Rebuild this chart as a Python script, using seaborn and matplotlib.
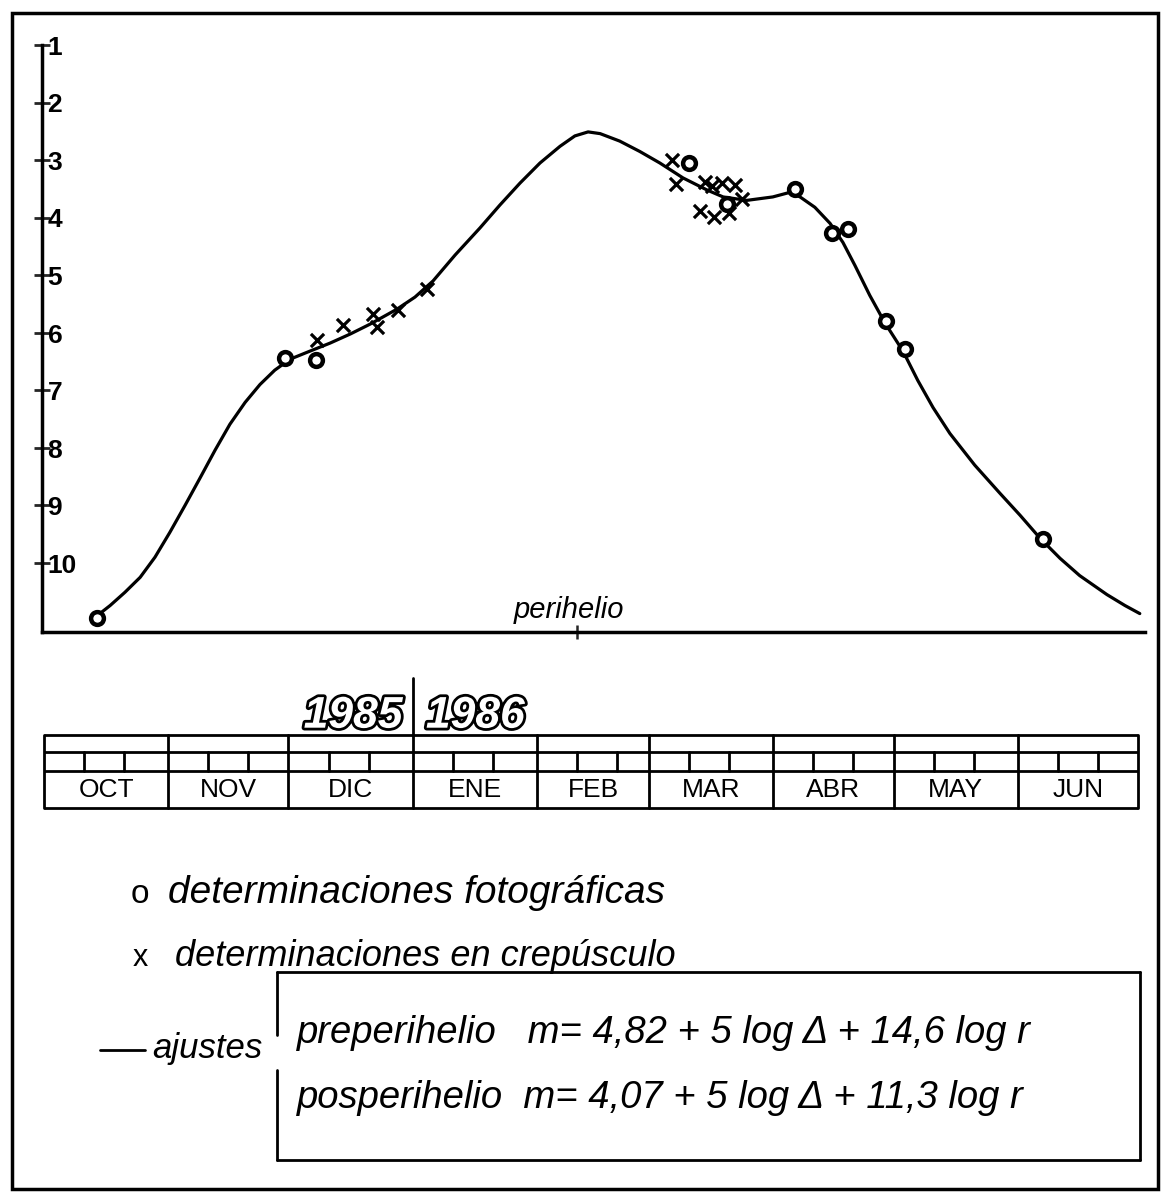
import numpy as np
import pandas as pd
import seaborn as sns
import matplotlib.pyplot as plt
from matplotlib import patheffects
from matplotlib.lines import Line2D
from matplotlib.transforms import offset_copy

# Days counted from 1985 October 1, magnitudes
month_names = ["OCT", "NOV", "DIC", "ENE", "FEB", "MAR", "ABR", "MAY", "JUN"]
month_days = [31, 30, 31, 31, 28, 31, 30, 31, 30]
mag_ticks = [1, 2, 3, 4, 5, 6, 7, 8, 9, 10]
perihelion_day = 133

# photographic determinations (circles)
foto_day = [13.2, 60.1, 67.9, 161.0, 170.5, 187.4, 196.7, 200.6, 210.1, 214.9, 249.3]
foto_mag = [10.95, 6.44, 6.48, 3.05, 3.77, 3.50, 4.27, 4.20, 5.80, 6.29, 9.59]

# twilight determinations (crosses)
crep_day = [68.1, 74.6, 82.1, 83.1, 88.3, 95.6,
            156.7, 157.7, 165.0, 166.7, 169.2, 172.5, 174.2, 163.7, 167.2, 171.0]
crep_mag = [6.13, 5.87, 5.68, 5.90, 5.61, 5.24,
            3.00, 3.42, 3.38, 3.45, 3.40, 3.43, 3.68, 3.89, 3.99, 3.92]

# fitted light curve (pre and post perihelion)
fit_day = [13.2, 16.5, 20.2, 24.0, 27.7, 31.4, 35.2, 38.9, 42.7, 46.4, 50.2,
           53.9, 57.6, 61.4, 66.0, 71.4, 76.5, 81.4, 88.1, 92.6, 97.1, 102.6,
           108.8, 113.8, 118.8, 123.8, 128.8, 132.5, 135.8, 138.8, 143.7, 148.7,
           153.7, 159.5, 165.5, 169.5, 175.4, 181.9, 186.2, 188.7, 192.4, 196.2,
           199.4, 202.4, 206.1, 209.9, 214.4, 218.1, 221.9, 226.1, 232.3, 238.6,
           243.6, 248.6, 253.6, 258.5, 265.3, 269.8, 273.5]
fit_mag = [10.92, 10.74, 10.51, 10.25, 9.90, 9.47, 9.00, 8.53, 8.04, 7.59, 7.21,
           6.90, 6.65, 6.46, 6.33, 6.18, 6.02, 5.85, 5.59, 5.38, 5.10, 4.65,
           4.18, 3.78, 3.40, 3.05, 2.76, 2.58, 2.51, 2.54, 2.67, 2.85,
           3.05, 3.31, 3.52, 3.64, 3.70, 3.64, 3.56, 3.64, 3.82, 4.10,
           4.43, 4.83, 5.35, 5.83, 6.32, 6.83, 7.30, 7.75, 8.30, 8.79,
           9.17, 9.57, 9.92, 10.22, 10.55, 10.74, 10.88]

sns.set_style("white")
plt.rcParams["font.family"] = ["Liberation Sans", "DejaVu Sans"]
plt.rcParams["text.color"] = "black"

W, H = 1163, 1194
fig = plt.figure(figsize=(W / 100, H / 100), dpi=100)


def fig_box(x0, y0, x1, y1):
    # pixel box (top-left origin) -> figure fraction rect
    return [x0 / W, 1 - y1 / H, (x1 - x0) / W, (y1 - y0) / H]


def fx(px):
    return px / W


def fy(py):
    return 1 - py / H


# ---- main light curve ----
ax = fig.add_axes(fig_box(42, 45, 1145, 632))

sns.lineplot(x=fit_day, y=fit_mag, sort=False, estimator=None,
             color="black", linewidth=2.3, ax=ax, zorder=2)
ax.lines[-1].set_solid_joinstyle("round")
sns.scatterplot(x=crep_day, y=crep_mag, marker="x", color="black",
                s=90, linewidth=2.3, ax=ax, zorder=3)
sns.scatterplot(x=foto_day, y=foto_mag, marker="o", facecolor="white",
                edgecolor="black", s=85, linewidth=3.2, ax=ax, zorder=4)

ax.set_xlim(-0.5, 274.8)
ax.set_ylim(11.2, 1.0)
ax.set_facecolor("white")
for side in ["top", "right"]:
    ax.spines[side].set_visible(False)
for side in ["left", "bottom"]:
    ax.spines[side].set_linewidth(2.5)
    ax.spines[side].set_color("black")

ax.set_yticks(mag_ticks)
ax.set_yticklabels([])
ax.tick_params(axis="y", direction="inout", length=11, width=2, left=True)
lab_tr = offset_copy(ax.get_yaxis_transform(), fig=fig, x=4, y=-2, units="points")
for v in mag_ticks:
    ax.text(0, v, str(v), transform=lab_tr, ha="left", va="center",
            fontsize=19, fontweight="bold")

ax.set_xticks([perihelion_day])
ax.set_xticklabels([])
ax.tick_params(axis="x", direction="inout", length=10, width=1.8, bottom=True)
ax.set_xlabel("")
ax.set_ylabel("")
per_tr = offset_copy(ax.transData, fig=fig, x=0, y=6, units="points")
ax.text(perihelion_day - 2, 11.2, "perihelio", transform=per_tr,
        ha="center", va="bottom", fontsize=21, fontstyle="italic")

# ---- calendar strip ----
tax = fig.add_axes(fig_box(44, 735, 1138, 808))
tax.set_xlim(0, sum(month_days))
tax.set_ylim(0, 1)
tax.axis("off")

starts = np.concatenate([[0], np.cumsum(month_days)])
lw_t = 2.0
for yv in [0, 0.507, 0.767, 1]:
    tax.plot([0, starts[-1]], [yv, yv], color="black", lw=lw_t,
             solid_capstyle="butt", clip_on=False)
for xv in starts:
    tax.plot([xv, xv], [0, 1], color="black", lw=lw_t, clip_on=False)
for s, n, name in zip(starts[:-1], month_days, month_names):
    for d in (10, 20):
        tax.plot([s + d, s + d], [0.507, 0.767], color="black", lw=lw_t)
    tax.text(s + n / 2, 0.25, name, ha="center", va="center", fontsize=19)

# year separator and year labels
tax.plot([starts[3], starts[3]], [1, 1.78], color="black", lw=lw_t, clip_on=False)
outline = [patheffects.withStroke(linewidth=4, foreground="black")]
tax.text(starts[3] - 2.5, 1.1, "1985", ha="right", va="baseline",
         fontsize=32, fontstyle="italic", fontweight="bold", color="white",
         path_effects=outline)
tax.text(starts[3] + 3.3, 1.1, "1986", ha="left", va="baseline",
         fontsize=32, fontstyle="italic", fontweight="bold", color="white",
         path_effects=outline)

# ---- legend ----
fig.text(fx(140), fy(903), "o", ha="center", va="baseline", fontsize=24)
fig.text(fx(168), fy(903), "determinaciones fotográficas", ha="left",
         va="baseline", fontsize=28, fontstyle="italic")
fig.text(fx(140), fy(966), "x", ha="center", va="baseline", fontsize=22)
fig.text(fx(175), fy(966), "determinaciones en crepúsculo", ha="left",
         va="baseline", fontsize=26, fontstyle="italic")

fig.add_artist(Line2D([fx(100), fx(145)], [fy(1050), fy(1050)],
                      transform=fig.transFigure, color="black", lw=2))
fig.text(fx(152), fy(1058), "ajustes", ha="left", va="baseline",
         fontsize=25, fontstyle="italic")

# formula box (left edge broken beside "ajustes")
box_lines = [
    ([277, 1140], [972, 972]),
    ([1140, 1140], [972, 1160]),
    ([277, 1140], [1160, 1160]),
    ([277, 277], [972, 1035]),
    ([277, 277], [1070, 1160]),
]
for xs, ys in box_lines:
    fig.add_artist(Line2D([fx(v) for v in xs], [fy(v) for v in ys],
                          transform=fig.transFigure, color="black", lw=2))

fig.text(fx(297), fy(1043), "preperihelio   m= 4,82 + 5 log Δ + 14,6 log r",
         ha="left", va="baseline", fontsize=27.5, fontstyle="italic")
fig.text(fx(297), fy(1108), "posperihelio  m= 4,07 + 5 log Δ + 11,3 log r",
         ha="left", va="baseline", fontsize=27.5, fontstyle="italic")

# outer frame
fig.add_artist(plt.Rectangle((fx(12), fy(1189)), fx(1158) - fx(12),
                             fy(13) - fy(1189), transform=fig.transFigure,
                             fill=False, lw=2.5, ec="black"))

fig.savefig("out.png", dpi=100)
